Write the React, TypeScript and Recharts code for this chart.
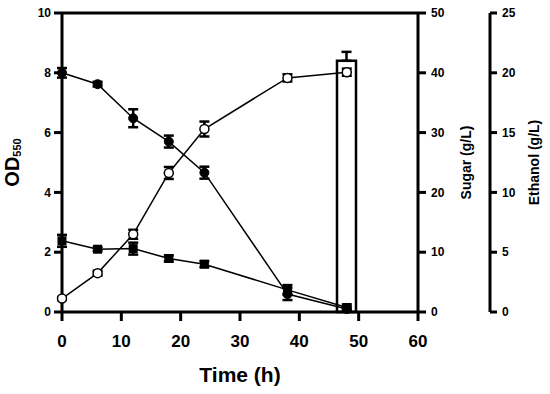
import React from "react";
import {
  ComposedChart,
  Line,
  Bar,
  XAxis,
  YAxis,
  ErrorBar,
  ReferenceLine,
  Label,
} from "recharts";

// sampling times (h)
const times = [0, 6, 12, 18, 24, 38, 48];

// open circles, OD550 (left axis)
const odValues = [0.45, 1.3, 2.6, 4.65, 6.12, 7.83, 8.02];
const odErrors = [0.05, 0.08, 0.15, 0.2, 0.25, 0.12, 0.12];

// filled circles, sugar g/L (right axis)
const sugarValues = [40, 38.1, 32.4, 28.5, 23.3, 3.0, 0.5];
const sugarErrors = [0.8, 0.4, 1.5, 1.0, 1.0, 1.0, 0.3];

// filled squares, second sugar g/L (right axis)
const sugar2Values = [11.9, 10.5, 10.6, 8.95, 8.0, 3.7, 0.75];
const sugar2Errors = [1.0, 0.3, 1.0, 0.5, 0.5, 0.8, 0.5];

// ethanol bar (far right axis), only at 48 h
const ethanolValues = [null, null, null, null, null, null, 21.0];
const ethanolErrors = [null, null, null, null, null, null, 0.75];

const timeTicks = [0, 10, 20, 30, 40, 50, 60];
const odTicks = [0, 2, 4, 6, 8, 10];
const sugarTicks = [0, 10, 20, 30, 40, 50];
const ethanolTicks = [0, 5, 10, 15, 20, 25];

const data = times.map((t, i) => ({
  time: t,
  od: odValues[i],
  odErr: odErrors[i],
  sugar: sugarValues[i],
  sugarErr: sugarErrors[i],
  sugar2: sugar2Values[i],
  sugar2Err: sugar2Errors[i],
  ethanol: ethanolValues[i],
  ethanolErr: ethanolErrors[i] == null ? null : [0, ethanolErrors[i]],
}));

const FONT = "'Liberation Sans', Arial, sans-serif";
const axisLine = { stroke: "#000", strokeWidth: 3 };
const tickLine = { stroke: "#000", strokeWidth: 3 };
const smallTick = { fontSize: 12, fontWeight: 700, fill: "#000", fontFamily: FONT };

const OpenDot = (props: any) => (
  <circle key={`o${props.index}`} cx={props.cx} cy={props.cy} r={4.5} fill="#fff" stroke="#000" strokeWidth={1.5} />
);
const FilledDot = (props: any) => (
  <circle key={`f${props.index}`} cx={props.cx} cy={props.cy} r={4.5} fill="#000" stroke="#000" strokeWidth={1} />
);
const SquareDot = (props: any) => (
  <rect key={`s${props.index}`} x={props.cx - 4.5} y={props.cy - 4.5} width={9} height={9} fill="#000" />
);

const VerticalLabel = ({ viewBox, dx, text, size }: any) => {
  const x = viewBox.x + dx;
  const y = viewBox.y + viewBox.height / 2;
  return (
    <text
      x={x}
      y={y}
      transform={`rotate(-90, ${x}, ${y})`}
      textAnchor="middle"
      fontSize={size}
      fontWeight={700}
      fontFamily={FONT}
      fill="#000"
    >
      {text}
    </text>
  );
};

const OdLabel = ({ viewBox }: any) => {
  const x = viewBox.x + 19;
  const y = viewBox.y + viewBox.height / 2;
  return (
    <text
      x={x}
      y={y}
      transform={`rotate(-90, ${x}, ${y})`}
      textAnchor="middle"
      fontWeight={700}
      fontFamily={FONT}
      fill="#000"
    >
      <tspan fontSize={20}>OD</tspan>
      <tspan fontSize={11} dy={2}>550</tspan>
    </text>
  );
};

const TimeLabel = ({ viewBox }: any) => (
  <text
    x={viewBox.x + viewBox.width / 2}
    y={viewBox.y + 70}
    textAnchor="middle"
    fontSize={21}
    fontWeight={700}
    fontFamily={FONT}
    fill="#000"
  >
    Time (h)
  </text>
);

export default function App() {
  return (
    <div style={{ position: "absolute", left: 0, top: 0 }}>
      <ComposedChart
        width={550}
        height={394}
        data={data}
        margin={{ top: 13, right: 0, bottom: 0, left: 0 }}
      >
        <XAxis
          dataKey="time"
          type="number"
          domain={[0, 60]}
          ticks={timeTicks}
          height={82}
          axisLine={axisLine}
          tickLine={tickLine}
          tickSize={9}
          tickMargin={14}
          tick={{ fontSize: 17, fontWeight: 700, fill: "#000", fontFamily: FONT }}
        >
          <Label content={<TimeLabel />} />
        </XAxis>
        <YAxis
          yAxisId="left1"
          orientation="left"
          width={62}
          domain={[0, 10]}
          ticks={odTicks}
          axisLine={axisLine}
          tickLine={tickLine}
          tickSize={8}
          tickMargin={3}
          tick={smallTick}
        >
          <Label content={<OdLabel />} />
        </YAxis>
        <YAxis
          yAxisId="right1"
          orientation="right"
          width={72}
          domain={[0, 50]}
          ticks={sugarTicks}
          axisLine={axisLine}
          tickLine={tickLine}
          tickSize={8}
          tickMargin={5}
          tick={smallTick}
        >
          <Label content={<VerticalLabel dx={53} text="Sugar (g/L)" size={14} />} />
        </YAxis>
        <YAxis
          yAxisId="right2"
          orientation="right"
          width={60}
          domain={[0, 25]}
          ticks={ethanolTicks}
          axisLine={axisLine}
          tickLine={tickLine}
          tickSize={7}
          tickMargin={5}
          tick={smallTick}
        >
          <Label content={<VerticalLabel dx={49} text="Ethanol (g/L)" size={14} />} />
        </YAxis>

        <ReferenceLine yAxisId="left1" y={10} stroke="#000" strokeWidth={3} />

        <Bar
          yAxisId="right2"
          dataKey="ethanol"
          barSize={19}
          fill="#fff"
          stroke="#000"
          strokeWidth={2.5}
          isAnimationActive={false}
        >
          <ErrorBar dataKey="ethanolErr" width={5} stroke="#000" strokeWidth={2.5} direction="y" />
        </Bar>

        <Line
          yAxisId="right1"
          dataKey="sugar2"
          stroke="#000"
          strokeWidth={1.5}
          dot={SquareDot}
          activeDot={false}
          isAnimationActive={false}
        >
          <ErrorBar dataKey="sugar2Err" width={5} stroke="#000" strokeWidth={2.5} direction="y" />
        </Line>
        <Line
          yAxisId="right1"
          dataKey="sugar"
          stroke="#000"
          strokeWidth={1.5}
          dot={FilledDot}
          activeDot={false}
          isAnimationActive={false}
        >
          <ErrorBar dataKey="sugarErr" width={5} stroke="#000" strokeWidth={2.5} direction="y" />
        </Line>
        <Line
          yAxisId="left1"
          dataKey="od"
          stroke="#000"
          strokeWidth={1.5}
          dot={OpenDot}
          activeDot={false}
          isAnimationActive={false}
        >
          <ErrorBar dataKey="odErr" width={5} stroke="#000" strokeWidth={2.5} direction="y" />
        </Line>
      </ComposedChart>
    </div>
  );
}
